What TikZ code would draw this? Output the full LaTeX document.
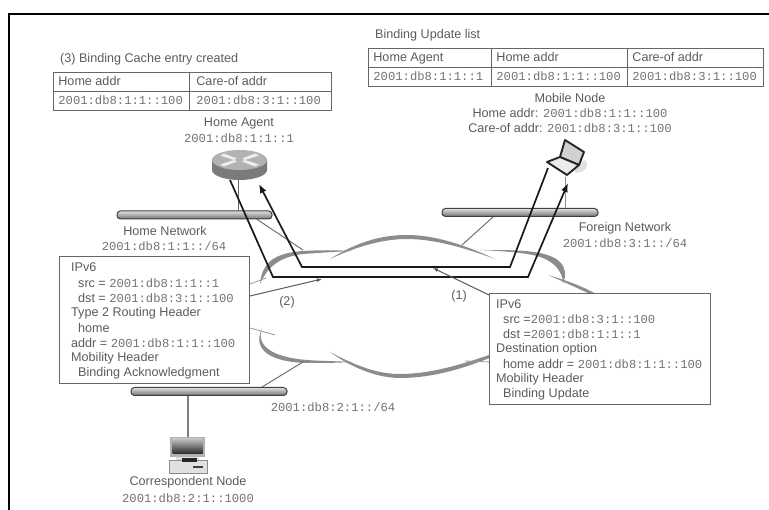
\documentclass[tikz,border=0pt]{standalone}
\usepackage{fontspec}
\setmainfont{Liberation Sans}
\setmonofont{Liberation Mono}
\usetikzlibrary{arrows.meta}
\definecolor{ink}{gray}{0.36}
\definecolor{monoink}{gray}{0.45}
\definecolor{rule}{gray}{0.4}
\definecolor{cloudc}{gray}{0.55}
\newcommand{\ad}[1]{{\color{monoink}\ttfamily\fontsize{12.2}{14}\selectfont #1}}
\tikzset{
  lbl/.style={text=ink,font=\fontsize{12.6}{14}\selectfont,inner sep=0pt},
  lleft/.style={lbl,anchor=west},
  cell/.style={draw=rule,line width=0.8pt,fill=white,anchor=north west,inner sep=0pt,text=ink,font=\fontsize{12.6}{14}\selectfont,align=left,text height=8.5pt,text depth=2pt},
  infobox/.style={draw=rule,line width=1pt,fill=white,anchor=north west,inner sep=0pt},
  bar/.style={draw=black!75,line width=1pt,rounded corners=3.5pt,top color=black!12,bottom color=black!55,inner sep=0pt},
  cloudfill/.style={fill=cloudc,draw=none},
  thinline/.style={draw=black!60,line width=0.9pt},
  cloudline/.style={draw=black!40,line width=0.8pt},
  flow/.style={draw=black!90,line width=1.7pt,line join=miter},
  callout/.style={draw=black!65,line width=1pt,-{Latex[length=5pt,width=4pt]}},
}
\begin{document}
\begin{tikzpicture}[x=1pt,y=-1pt]
\useasboundingbox (0,0) rectangle (769,510);
\fill[white] (0,0) rectangle (769,510);
% frame
\coordinate (frameA) at (769,14);
\coordinate (frameB) at (9,14);
\coordinate (frameC) at (9,510);
\draw[black,line width=2.4pt] (frameA) -- (frameB) -- (frameC);

% cloud
\fill[cloudfill] (260,284) .. controls (262,262) and (275,253) .. (303,251) .. controls (320,250) and (335,250) .. (352,251) .. controls (330,252) and (318,253) .. (303,254) .. controls (280,257) and (268,266) .. (260,284) -- cycle;
\fill[cloudfill] (330,259) .. controls (360,240) and (385,235) .. (407,235) .. controls (435,235) and (465,245) .. (495,259) .. controls (465,248) and (435,239) .. (407,239) .. controls (385,239) and (360,245) .. (330,259) -- cycle;
\fill[cloudfill] (480,250) .. controls (505,250) and (525,250) .. (540,253) .. controls (558,257) and (570,265) .. (563,284) .. controls (563,270) and (552,260) .. (537,256) .. controls (520,252) and (500,251) .. (480,250) -- cycle;
\fill[cloudfill] (548,275) .. controls (565,280) and (582,286) .. (596,294) -- (590,294) .. controls (575,287) and (562,281) .. (548,275) -- cycle;
\fill[cloudfill] (262,328) .. controls (256,345) and (270,357) .. (307,360) .. controls (320,361) and (335,361) .. (352,362) .. controls (335,363) and (320,363) .. (307,363) .. controls (270,362) and (252,350) .. (262,328) -- cycle;
\fill[cloudfill] (330,352) .. controls (360,368) and (380,374) .. (400,374) .. controls (430,374) and (460,365) .. (492,354) -- (492,357) .. controls (460,370) and (430,378) .. (400,378) .. controls (380,378) and (355,370) .. (330,352) -- cycle;
\draw[cloudline] (250,328) -- (275,335);
\draw[cloudline] (250,284) -- (266,278);
\draw[cloudline] (465,361) -- (492,362);

% bars
\node[bar,minimum width=155pt,minimum height=8pt] (homebar) at (194.5,215) {};
\node[bar,minimum width=156pt,minimum height=8pt] (foreignbar) at (520,212.5) {};
\node[bar,minimum width=156pt,minimum height=8pt] (corrbar) at (209,391.5) {};

% devices
\node[minimum width=55pt,minimum height=30pt,inner sep=0pt] (router) at (239.5,165) {};
\node[minimum width=36pt,minimum height=36pt,inner sep=0pt] (laptop) at (565,158) {};
\node[minimum width=38pt,minimum height=36pt,inner sep=0pt] (pc) at (188,455) {};

% links
\coordinate (rt) at (238,180);
\coordinate (rb) at (238,211);
\coordinate (h1) at (255,218);
\coordinate (h2) at (303,250);
\coordinate (f1) at (493,217);
\coordinate (f2) at (462,245);
\coordinate (l1) at (565,177);
\coordinate (l2) at (565,208);
\coordinate (c1) at (303,362);
\coordinate (c2) at (262,387);
\coordinate (p1) at (188,396);
\coordinate (p2) at (188,437);
\draw[thinline] (rt) -- (rb);
\draw[thinline] (h1) -- (h2);
\draw[thinline] (f1) -- (f2);
\draw[draw=black!45,line width=0.9pt] (l1) -- (l2);
\draw[thinline] (c1) -- (c2);
\draw[draw=black!50,line width=1.3pt] (p1) -- (p2);

% router drawing
\fill[black!52] (212,160) -- (212,170) arc[start angle=180,end angle=0,x radius=27.5,y radius=10] -- (267,160) -- cycle;
\fill[black!30] (239.5,160) ellipse[x radius=27.5,y radius=10];
\fill[black!7] (224,153.5) -- (237,158.5) -- (234,160) -- (220,155.5) -- cycle;
\fill[black!7] (255,153.5) -- (242,158.5) -- (245,160) -- (259,155.5) -- cycle;
\fill[black!7] (224,166.5) -- (237,161.5) -- (234,160) -- (220,164.5) -- cycle;
\fill[black!7] (255,166.5) -- (242,161.5) -- (245,160) -- (259,164.5) -- cycle;

% laptop drawing
\fill[black!12] (575,173) .. controls (586,172) and (590,166) .. (585,160) -- (575,165) -- cycle;
\draw[black!85,line width=1.9pt,line join=round,fill=black!18] (565,140) -- (584,152) -- (579,165) -- (560,157) -- cycle;
\draw[black!85,line width=1.9pt,line join=round,fill=black!8] (547,162) -- (560,157) -- (579,165) -- (567,175) -- cycle;

% pc drawing
\fill[black!30] (170,437) rectangle (205,457);
\shade[top color=black!25,bottom color=black!85] (172.5,439) rectangle (202.5,454);
\fill[black!12] (176,457) rectangle (199,460);
\draw[black!45,fill=black!12,line width=0.7pt] (169,460) rectangle (207,473);
\fill[black!85] (182,458.5) rectangle (197,462);
\fill[black!75] (193,466) rectangle (203,468);

% flows
\coordinate (mA) at (230,180);
\coordinate (mB) at (273,277);
\coordinate (mC) at (528,277);
\coordinate (mD) at (568,183);
\coordinate (nA) at (548,168);
\coordinate (nB) at (510,267);
\coordinate (nC) at (302,267);
\coordinate (nD) at (259,184);
\draw[flow,-{Latex[length=9pt,width=7pt]}] (mA) -- (mB) -- (mC) -- (mD);
\draw[flow,-{Latex[length=9pt,width=7pt]}] (nA) -- (nB) -- (nC) -- (nD);

% tables
\node[lleft] (t1) at (60,59) {(3) Binding Cache entry created};
\node[cell,minimum width=136pt,minimum height=19pt] (a1) at (53,72) {\makebox[136pt][l]{\hspace*{5pt}Home addr}};
\node[cell,minimum width=142pt,minimum height=19pt] (a2) at (189,72) {\makebox[142pt][l]{\hspace*{7pt}Care-of addr}};
\node[cell,minimum width=136pt,minimum height=19pt] (a3) at (53,91) {\makebox[136pt][l]{\hspace*{5pt}\ad{2001:db8:1:1::100}}};
\node[cell,minimum width=142pt,minimum height=19pt] (a4) at (189,91) {\makebox[142pt][l]{\hspace*{7pt}\ad{2001:db8:3:1::100}}};

\node[lleft] (t2) at (375,35) {Binding Update list};
\node[cell,minimum width=123pt,minimum height=19pt] (b1) at (368,48) {\makebox[123pt][l]{\hspace*{5pt}Home Agent}};
\node[cell,minimum width=136pt,minimum height=19pt] (b2) at (491,48) {\makebox[136pt][l]{\hspace*{5pt}Home addr}};
\node[cell,minimum width=136pt,minimum height=19pt] (b3) at (627,48) {\makebox[136pt][l]{\hspace*{5pt}Care-of addr}};
\node[cell,minimum width=123pt,minimum height=19pt] (b4) at (368,67) {\makebox[123pt][l]{\hspace*{5pt}\ad{2001:db8:1:1::1}}};
\node[cell,minimum width=136pt,minimum height=19pt] (b5) at (491,67) {\makebox[136pt][l]{\hspace*{5pt}\ad{2001:db8:1:1::100}}};
\node[cell,minimum width=136pt,minimum height=19pt] (b6) at (627,67) {\makebox[136pt][l]{\hspace*{5pt}\ad{2001:db8:3:1::100}}};

% labels
\node[lbl] (haname) at (239,123) {Home Agent};
\node[lbl] (haaddr) at (239,138) {\ad{2001:db8:1:1::1}};
\node[lbl] (mnname) at (570,98) {Mobile Node};
\node[lbl] (mnhome) at (570,113) {Home addr: \ad{2001:db8:1:1::100}};
\node[lbl] (mncare) at (570,128) {Care-of addr: \ad{2001:db8:3:1::100}};
\node[lbl] (hnname) at (165,231) {Home Network};
\node[lbl] (hnaddr) at (164,246) {\ad{2001:db8:1:1::/64}};
\node[lbl] (fnname) at (625,228) {Foreign Network};
\node[lbl] (fnaddr) at (625,243) {\ad{2001:db8:3:1::/64}};
\node[lbl] (cnaddr) at (333,407) {\ad{2001:db8:2:1::/64}};
\node[lbl] (cnname) at (188,482) {Correspondent Node};
\node[lbl] (cnip) at (188,498) {\ad{2001:db8:2:1::1000}};
\node[lbl] (n2) at (287,302) {(2)};
\node[lbl] (n1) at (459,296) {(1)};

% info boxes
\node[infobox,minimum width=190pt,minimum height=127pt] (boxL) at (59,256) {};
\node[infobox,minimum width=221pt,minimum height=111pt] (boxR) at (489,293) {};
\node[lleft] (l1a) at (71,267) {IPv6};
\node[lleft] (l2a) at (78,283) {src = \ad{2001:db8:1:1::1}};
\node[lleft] (l3a) at (78,298) {dst = \ad{2001:db8:3:1::100}};
\node[lleft] (l4a) at (71,313) {Type 2 Routing Header};
\node[lleft] (l5a) at (78,328) {home};
\node[lleft] (l6a) at (71,343) {addr = \ad{2001:db8:1:1::100}};
\node[lleft] (l7a) at (71,358) {Mobility Header};
\node[lleft] (l8a) at (78,373) {Binding Acknowledgment};
\node[lleft] (r1a) at (496,304) {IPv6};
\node[lleft] (r2a) at (503,319) {src =\ad{2001:db8:3:1::100}};
\node[lleft] (r3a) at (503,334) {dst =\ad{2001:db8:1:1::1}};
\node[lleft] (r4a) at (496,349) {Destination option};
\node[lleft] (r5a) at (503,364) {home addr = \ad{2001:db8:1:1::100}};
\node[lleft] (r6a) at (496,379) {Mobility Header};
\node[lleft] (r7a) at (503,394) {Binding Update};

% callouts
\coordinate (k2) at (322,279);
\coordinate (k1) at (433,268);
\draw[callout] (boxL.east |- 0,296) -- (k2);
\draw[callout] (boxR.west |- 0,295) -- (k1);
\end{tikzpicture}
\end{document}
